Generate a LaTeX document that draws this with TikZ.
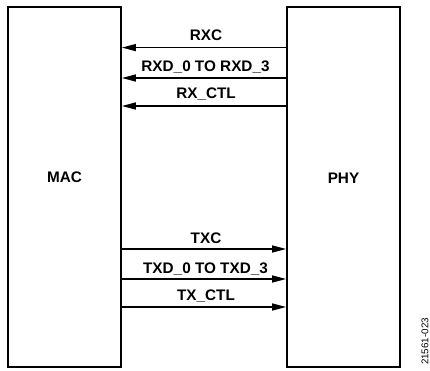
\documentclass[tikz,border=0pt]{standalone}
\usepackage{fontspec}
\setmainfont{Liberation Sans}
\usetikzlibrary{arrows.meta}
\begin{document}
\begin{tikzpicture}[x=1pt,y=1pt,
  blockbox/.style={draw,line width=1.8pt,minimum width=113pt,minimum height=360pt,inner sep=0pt},
  sig/.style={line width=1.5pt,-{Triangle[length=14pt,width=7pt]}},
  lbl/.style={anchor=base,font=\fontsize{15.3}{17}\selectfont\bfseries,inner sep=0pt}]
\useasboundingbox (0,0) rectangle (430,370);
\node[blockbox] (mac) at (64.5,183) {};
\node[blockbox] (phy) at (343.5,183) {};
\node[lbl] (macl) at (64.5,188) {MAC};
\node[lbl] (phyl) at (343.5,186.7) {PHY};
% RX
\draw[sig] (phy.west |- 0,322.4) -- (mac.east |- 0,322.4);
\draw[sig] (phy.west |- 0,292) -- (mac.east |- 0,292);
\draw[sig] (phy.west |- 0,264) -- (mac.east |- 0,264);
\node[lbl] (rxc) at (206,329.5) {RXC};
\node[lbl] (rxd) at (205.5,298.5) {RXD\_0 TO RXD\_3};
\node[lbl] (rxctl) at (206,271) {RX\_CTL};
% TX
\draw[sig] (mac.east |- 0,121) -- (phy.west |- 0,121);
\draw[sig] (mac.east |- 0,91) -- (phy.west |- 0,91);
\draw[sig] (mac.east |- 0,63) -- (phy.west |- 0,63);
\node[lbl] (txc) at (206,126.7) {TXC};
\node[lbl] (txd) at (205.5,97) {TXD\_0 TO TXD\_3};
\node[lbl] (txctl) at (206,69.5) {TX\_CTL};
\node[rotate=90,inner sep=0pt,font=\fontsize{9.8}{11}\selectfont] (code) at (425,28.5) {21561-023};
\end{tikzpicture}
\end{document}
